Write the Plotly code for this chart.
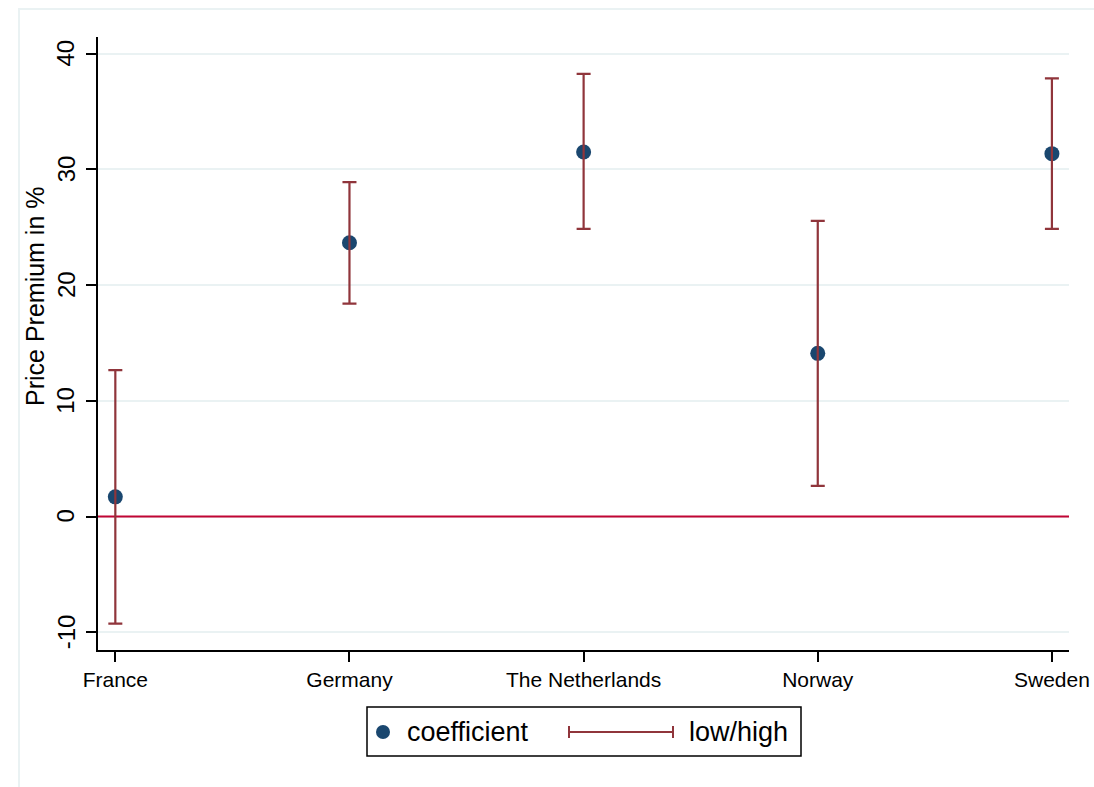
import plotly.graph_objects as go

countries = ["France", "Germany", "The Netherlands", "Norway", "Sweden"]
coefficient = [1.7, 23.65, 31.5, 14.1, 31.35]
low = [-9.25, 18.4, 24.85, 2.65, 24.85]
high = [12.65, 28.9, 38.25, 25.55, 37.85]
y_ticks = [-10, 0, 10, 20, 30, 40]
y_ticktext = ["-10", "0", "10", "20", "30", "40"]

W, H = 1094, 787
# plot area in screen pixels
SX0, SX1, SY0, SY1 = 98, 1069, 37, 650
L, T = SX0, SY0
R, B = W - SX1, H - SY1
PW, PH = SX1 - SX0, SY1 - SY0

def px(x):
    return (x - SX0) / PW

def py(y):
    return (SY1 - y) / PH

FONT = "Arial, Liberation Sans, sans-serif"
NAVY = "#1a476f"
MAROON = "#90353b"
GRID = "#eaf2f3"
XR = [-0.074, 4.073]
YR = [-11.53, 41.43]

xpos = list(range(len(countries)))

fig = go.Figure()
# reference line at zero
fig.add_trace(go.Scatter(
    x=XR, y=[0, 0], mode="lines", line=dict(color="#c10534", width=2),
    showlegend=False, hoverinfo="skip",
))
fig.add_trace(go.Scatter(
    x=xpos, y=coefficient, mode="markers", name="coefficient",
    marker=dict(color=NAVY, size=15, line=dict(width=0)),
    showlegend=False,
))
fig.add_trace(go.Scatter(
    x=xpos, y=coefficient, mode="markers", name="low/high",
    marker=dict(color="rgba(0,0,0,0)", size=1),
    error_y=dict(
        type="data", symmetric=False,
        array=[h - c for h, c in zip(high, coefficient)],
        arrayminus=[c - l for c, l in zip(coefficient, low)],
        color=MAROON, thickness=2.2, width=7,
    ),
    showlegend=False, hoverinfo="skip",
))

shapes = [
    # outer frame
    dict(type="rect", xref="paper", yref="paper",
         x0=px(19), x1=px(W + 5), y0=py(H + 5), y1=py(9),
         line=dict(color=GRID, width=2), layer="below"),
    # legend box
    dict(type="rect", xref="paper", yref="paper",
         x0=px(367), x1=px(801), y0=py(756), y1=py(707),
         line=dict(color="black", width=1.5), fillcolor="white"),
    # legend marker
    dict(type="circle", xref="paper", yref="paper",
         x0=px(383 - 7), x1=px(383 + 7), y0=py(732 + 7), y1=py(732 - 7),
         line=dict(width=0), fillcolor=NAVY),
    # legend range line
    dict(type="line", xref="paper", yref="paper",
         x0=px(569), x1=px(673), y0=py(732), y1=py(732),
         line=dict(color=MAROON, width=2)),
    dict(type="line", xref="paper", yref="paper",
         x0=px(569), x1=px(569), y0=py(726), y1=py(738),
         line=dict(color=MAROON, width=2)),
    dict(type="line", xref="paper", yref="paper",
         x0=px(673), x1=px(673), y0=py(726), y1=py(738),
         line=dict(color=MAROON, width=2)),
]

annotations = [
    dict(text="Price Premium in %", xref="paper", yref="paper",
         x=px(35), y=py(296), textangle=-90, showarrow=False,
         xanchor="center", yanchor="middle",
         font=dict(family=FONT, size=25, color="black")),
    dict(text="coefficient", xref="paper", yref="paper",
         x=px(405), y=py(732), showarrow=False,
         xanchor="left", yanchor="middle",
         font=dict(family=FONT, size=27, color="black")),
    dict(text="low/high", xref="paper", yref="paper",
         x=px(687), y=py(732), showarrow=False,
         xanchor="left", yanchor="middle",
         font=dict(family=FONT, size=27, color="black")),
]
# rotated y tick labels
for v, t in zip(y_ticks, y_ticktext):
    annotations.append(dict(
        text=t, xref="paper", yref="y", x=px(66), y=v, textangle=-90,
        showarrow=False, xanchor="center", yanchor="middle",
        font=dict(family=FONT, size=24, color="black"),
    ))

fig.update_layout(
    width=W, height=H,
    margin=dict(l=L, r=R, t=T, b=B, autoexpand=False),
    paper_bgcolor="white", plot_bgcolor="white",
    showlegend=False,
    shapes=shapes, annotations=annotations,
    xaxis=dict(
        range=XR, tickmode="array", tickvals=xpos, ticktext=countries,
        showgrid=False, zeroline=False, showline=True, linecolor="black", linewidth=1.5,
        ticks="outside", ticklen=10, tickwidth=1.5, tickcolor="black",
        tickfont=dict(family=FONT, size=21, color="black"),
    ),
    yaxis=dict(
        range=YR, tickmode="array", tickvals=y_ticks, showticklabels=False,
        showgrid=True, gridcolor=GRID, gridwidth=1.5, zeroline=False,
        showline=True, linecolor="black", linewidth=1.5,
        ticks="outside", ticklen=10, tickwidth=1.5, tickcolor="black",
    ),
)

fig.write_html(
    "out.html",
    config={"displayModeBar": False},
    post_script="document.body.style.margin='0';document.body.style.overflow='hidden';",
)
